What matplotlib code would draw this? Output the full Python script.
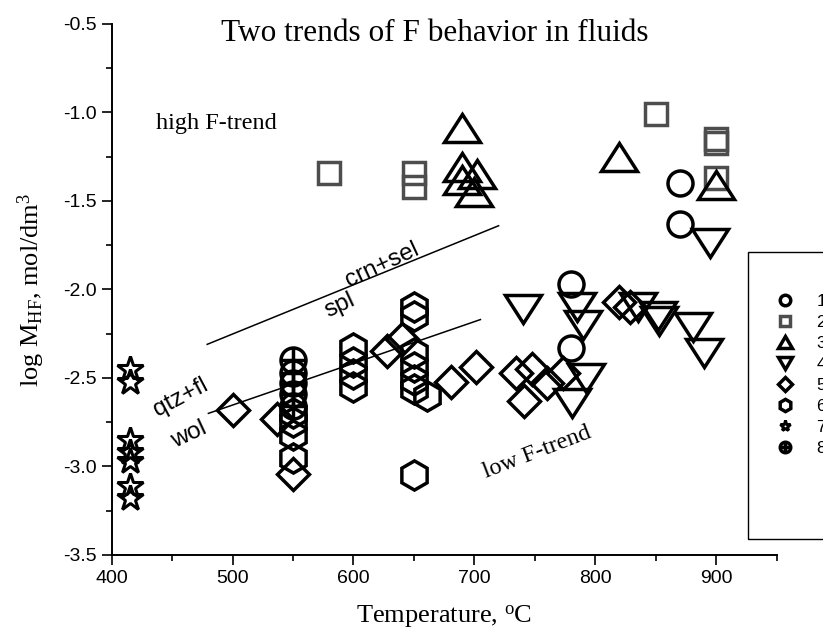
import matplotlib
matplotlib.use('Agg')
import matplotlib.pyplot as plt
from matplotlib.markers import MarkerStyle
from matplotlib.transforms import Affine2D
from matplotlib.patches import Rectangle
from matplotlib.pyplot import MultipleLocator
from matplotlib.legend_handler import HandlerTuple

plt.rcParams['font.family'] = ['Liberation Sans', 'DejaVu Sans']
plt.rcParams['mathtext.fontset'] = 'custom'
plt.rcParams['mathtext.rm'] = 'Liberation Serif'
plt.rcParams['mathtext.it'] = 'Liberation Serif:italic'

# data (temperature, log M_HF)
t1 = [780, 780, 870, 870]
v1 = [-1.97, -2.33, -1.40, -1.63]
t2 = [580, 650, 650, 850, 900, 900, 900]
v2 = [-1.34, -1.34, -1.42, -1.01, -1.15, -1.17, -1.37]
t3 = [690, 690, 702, 690, 700, 820, 900]
v3 = [-1.09, -1.31, -1.35, -1.38, -1.45, -1.25, -1.41]
t4 = [740, 785, 790, 792, 781, 835, 852, 853, 881, 890, 895]
v4 = [-2.11, -2.10, -2.20, -2.50, -2.64, -2.10, -2.15, -2.18, -2.21, -2.36, -1.74]
t5 = [500, 537, 550, 628, 640, 681, 701, 734, 741, 748, 760, 773, 820, 829]
v5 = [-2.68, -2.73, -3.04, -2.35, -2.28, -2.52, -2.44, -2.47, -2.63, -2.45, -2.53, -2.47, -2.07, -2.10]
t6 = [550, 550, 550, 550, 600, 600, 600, 600, 650, 650, 650, 650, 650, 650, 661, 650]
v6 = [-2.70, -2.75, -2.82, -2.95, -2.33, -2.41, -2.48, -2.55, -2.10, -2.15, -2.36, -2.44, -2.51, -2.56, -2.60, -3.05]
t7 = [415, 415, 415, 415, 415, 415, 415]
v7 = [-2.45, -2.52, -2.85, -2.92, -2.97, -3.11, -3.18]
t8 = [550, 550, 550, 550, 550]
v8 = [-2.40, -2.47, -2.53, -2.59, -2.66]

# the two reaction lines
line_upper_t = [479, 720]
line_upper_v = [-2.31, -1.64]
line_lower_t = [480, 705]
line_lower_v = [-2.70, -2.17]

fig = plt.figure(figsize=(8.23, 6.41), dpi=100)
ax = fig.add_axes([0.1357, 0.1342, 0.808, 0.8284])

lw = 2.5
tri_up = MarkerStyle('^', transform=Affine2D().scale(1.15, 0.9))
tri_dn = MarkerStyle('v', transform=Affine2D().scale(1.15, 0.9))

h1, = ax.plot(t1, v1, ls='none', marker='o', ms=18, mfc='none', mec='k', mew=lw, label='1')
h2, = ax.plot(t2, v2, ls='none', marker='s', ms=16, mfc='none', mec='#4d4d4d', mew=lw, label='2')
h3, = ax.plot(t3, v3, ls='none', marker=tri_up, ms=22, mfc='none', mec='k', mew=lw, label='3')
h4, = ax.plot(t4, v4, ls='none', marker=tri_dn, ms=22, mfc='none', mec='k', mew=lw, label='4')
h5, = ax.plot(t5, v5, ls='none', marker='D', ms=16, mfc='none', mec='k', mew=lw, label='5')
h6, = ax.plot(t6, v6, ls='none', marker='h', ms=21, mfc='none', mec='k', mew=lw, label='6')
h7, = ax.plot(t7, v7, ls='none', marker='*', ms=19, mfc='none', mec='k', mew=2.2, label='7')
h8a, = ax.plot(t8, v8, ls='none', marker='o', ms=18, mfc='none', mec='k', mew=lw)
h8b, = ax.plot(t8, v8, ls='none', marker='+', ms=18, mec='k', mew=lw)

ax.plot(line_upper_t, line_upper_v, c='k', lw=1.1)
ax.plot(line_lower_t, line_lower_v, c='k', lw=1.1)

ax.set_xlim(400, 950)
ax.set_ylim(-3.5, -0.5)
ax.xaxis.set_major_locator(MultipleLocator(100))
ax.xaxis.set_minor_locator(MultipleLocator(50))
ax.yaxis.set_major_locator(MultipleLocator(0.5))
ax.yaxis.set_minor_locator(MultipleLocator(0.25))
ax.yaxis.set_major_formatter(matplotlib.ticker.FormatStrFormatter('%.1f'))
ax.tick_params(axis='both', which='major', labelsize=14, length=7, width=1.2, direction='out')
ax.tick_params(axis='both', which='minor', length=4, width=1.2, direction='out')
for s in ['top', 'right']:
    ax.spines[s].set_visible(False)
for s in ['left', 'bottom']:
    ax.spines[s].set_linewidth(1.4)

ax.set_xlabel('Temperature, $^{\\rm o}$C', family='Liberation Serif', fontsize=19, labelpad=12)
ax.set_ylabel('log M$_{\\rm HF}$, mol/dm$^{\\rm 3}$', family='Liberation Serif', fontsize=19, labelpad=12)

fig.text(0.5286, 0.9470, 'Two trends of F behavior in fluids', family='Liberation Serif',
         fontsize=22.5, ha='center', va='center')

ax.text(437, -1.06, 'high F-trend', family='Liberation Serif', fontsize=17.5, ha='left', va='center')
ax.text(752, -2.92, 'low F-trend', family='Liberation Serif', fontsize=17.5, ha='center', va='center', rotation=21)
ax.text(624, -1.86, 'crn+sel', fontsize=17.5, ha='center', va='center', rotation=25)
ax.text(589, -2.09, 'spl', fontsize=17.5, ha='center', va='center', rotation=25)
ax.text(457, -2.61, 'qtz+fl', fontsize=17.5, ha='center', va='center', rotation=28)
ax.text(464, -2.82, 'wol', fontsize=17.5, ha='center', va='center', rotation=25)

# legend box runs past the right edge of the figure, as in the original
fig.patches.append(Rectangle((748 / 823, 1 - 539 / 641), 0.2, (539 - 252) / 641,
                             transform=fig.transFigure, fill=False, ec='k', lw=1.0))
fig.legend([h1, h2, h3, h4, h5, h6, h7, (h8a, h8b)], ['1', '2', '3', '4', '5', '6', '7', '8'],
           handler_map={tuple: HandlerTuple(ndivide=1)},
           loc='upper left', bbox_to_anchor=(776.7 / 823, 1 - 293.5 / 641),
           frameon=False, fontsize=12.5, markerscale=0.42, handlelength=1.0,
           handletextpad=1.29, labelspacing=0.34, borderpad=0, borderaxespad=0)

fig.savefig('out.png', dpi=100)
